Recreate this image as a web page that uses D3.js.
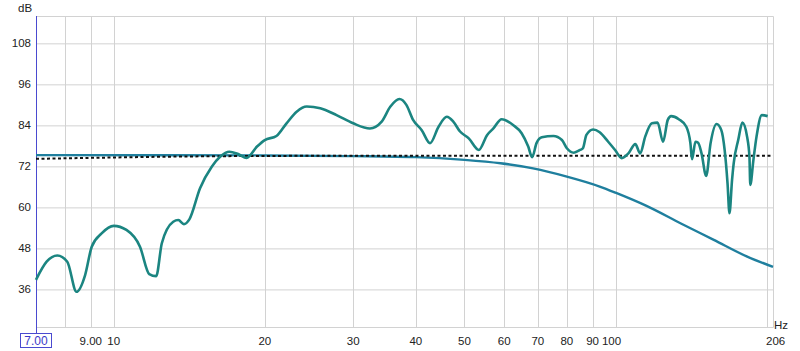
<!DOCTYPE html>
<html>
<head>
<meta charset="utf-8">
<script src="https://cdn.jsdelivr.net/npm/d3@7"></script>
<style>
  body { margin: 0; background: #fff; }
  svg text { font-family: "Liberation Sans", Arial, sans-serif; fill: #222; }
</style>
</head>
<body>
<div id="chart"></div>
<script>
// measured response (Hz, dB)
const measFreq = [7.0, 7.35, 7.72, 8.08, 8.43, 8.77, 9.04, 9.46, 10.0, 10.6, 11.28, 11.77, 12.15, 12.47,
    13.14, 13.45, 13.8, 14.15, 14.86, 15.68, 16.29, 17.0, 17.7, 18.4, 19.3, 20.0, 21.1, 22.1, 23.15,
    24.25, 25.8, 27.8, 30.0, 32.4, 34.2, 35.6, 37.1, 38.3, 39.5, 41.1, 42.7, 44.4, 46.1, 47.5, 49.0,
    51.0, 53.4, 55.5, 57.1, 59.3, 62.5, 65.0, 67.0, 68.2, 69.6, 71.3, 75.2, 78.2, 80.0, 82.6, 85.0,
    86.1, 87.5, 90.2, 93.0, 96.7, 99.8, 102.9, 106.1, 109.5, 112.0, 114.6, 118.2, 121.3, 124.4, 127.1,
    129.1, 133.7, 138.4, 141.0, 142.1, 144.3, 146.1, 148.4, 151.6, 154.7, 159.0, 162.5, 165.0, 167.2,
    168.7, 170.7, 172.0, 175.6, 179.0, 182.9, 184.9, 185.6, 188.3, 191.0, 195.7, 201.0];
const measDb = [38.8, 44.1, 45.9, 44.1, 35.3, 40.2, 48.5, 52.4, 54.6, 53.4, 48.5, 40.5, 39.9, 49.5,
    55.8, 56.3, 55.1, 56.5, 65.6, 71.9, 74.8, 76.3, 75.6, 74.5, 77.8, 79.7, 80.9, 84.6, 88.0,
    89.5, 89.0, 87.0, 84.6, 83.1, 85.1, 89.5, 91.7, 90.0, 85.6, 82.6, 78.8, 83.6, 86.5, 85.1, 82.2,
    80.2, 76.8, 81.2, 83.1, 85.8, 84.1, 81.7, 77.8, 74.7, 78.8, 80.5, 80.9, 79.7, 77.3, 76.0, 76.8,
    77.3, 81.2, 82.8, 82.0, 79.2, 76.8, 74.4, 75.8, 78.5, 75.8, 80.7, 84.6, 84.8, 79.2, 85.6,
    86.7, 85.8, 83.6, 78.8, 74.1, 79.2, 78.9, 75.8, 69.2, 78.8, 84.4, 82.6, 76.8, 67.1,
    58.3, 68.0, 72.9, 79.7, 84.8, 80.7, 74.8, 66.6, 73.9, 80.7, 87.0, 86.7];

// roll-off curve (Hz, dB)
const rollFreq = [7, 20, 30, 40, 50, 59, 68.5, 80, 93, 100, 115, 135, 157, 183, 206];
const rollDb = [75.3, 75.2, 75.0, 74.7, 73.9, 72.9, 71.4, 69.0, 66.1, 64.3, 60.5, 55.3, 50.5, 45.6, 42.6];

// target (dotted)
const targetFreq = [7, 10, 14, 20, 30, 206];
const targetDb = [74.2, 74.6, 74.9, 75.05, 75.1, 75.1];

const yTicks = [36, 48, 60, 72, 84, 96, 108];
const xGrid = [8, 9, 10, 20, 30, 40, 50, 60, 70, 80, 90, 100, 200];
const xLabels = [9, 10, 20, 30, 40, 50, 60, 70, 80, 90, 100];

const width = 800, height = 351;
const marginLeft = 36, marginRight = 27, marginTop = 16, marginBottom = 24;

const svg = d3.select("#chart").append("svg")
    .attr("width", width)
    .attr("height", height);

const x = d3.scaleLog()
    .domain([7, 206])
    .range([marginLeft, width - marginRight]);

const y = d3.scaleLinear()
    .domain([25, 116])
    .range([height - marginBottom, marginTop]);

const gridColor = "#d2d2d2";

// horizontal grid
svg.append("g")
    .selectAll("line")
    .data(yTicks)
    .join("line")
    .attr("x1", marginLeft)
    .attr("x2", width - marginRight)
    .attr("y1", d => y(d) + 0.5)
    .attr("y2", d => y(d) + 0.5)
    .attr("stroke", gridColor);

// vertical grid
svg.append("g")
    .selectAll("line")
    .data(xGrid)
    .join("line")
    .attr("x1", d => Math.round(x(d)) + 0.5)
    .attr("x2", d => Math.round(x(d)) + 0.5)
    .attr("y1", marginTop)
    .attr("y2", height - marginBottom)
    .attr("stroke", gridColor);

// frame (top, right, bottom)
svg.append("path")
    .attr("d", `M${marginLeft},${marginTop + 0.5}H${width - marginRight + 0.5}V${height - marginBottom + 0.5}H${marginLeft}`)
    .attr("fill", "none")
    .attr("stroke", gridColor);

// y labels
svg.append("g")
    .selectAll("text")
    .data(yTicks)
    .join("text")
    .attr("x", marginLeft - 5)
    .attr("y", d => y(d) + 4)
    .attr("text-anchor", "end")
    .style("font-size", "11.5px")
    .text(d => d);

svg.append("text")
    .attr("x", 18)
    .attr("y", 12)
    .style("font-size", "11.5px")
    .text("dB");

// x labels
svg.append("g")
    .selectAll("text")
    .data(xLabels)
    .join("text")
    .attr("x", d => d === 100 ? x(d) - 4 : x(d))
    .attr("y", 345)
    .attr("text-anchor", "middle")
    .style("font-size", "11.5px")
    .text(d => d === 9 ? "9.00" : d);

svg.append("text")
    .attr("x", width - marginRight + 1)
    .attr("y", 329)
    .style("font-size", "11.5px")
    .text("Hz");

svg.append("text")
    .attr("x", width - marginRight - 7)
    .attr("y", 345)
    .style("font-size", "11.5px")
    .text("206");

// left axis (blue) with start box
const axisBlue = "#4a4ad0";
svg.append("line")
    .attr("x1", marginLeft + 0.5)
    .attr("x2", marginLeft + 0.5)
    .attr("y1", marginTop)
    .attr("y2", 333)
    .attr("stroke", axisBlue);

svg.append("rect")
    .attr("x", 20.5)
    .attr("y", 333.5)
    .attr("width", 31)
    .attr("height", 14)
    .attr("fill", "#fff")
    .attr("stroke", axisBlue);

svg.append("text")
    .attr("x", 36)
    .attr("y", 345)
    .attr("text-anchor", "middle")
    .style("font-size", "12px")
    .style("fill", "#3a3ac8")
    .text("7.00");

const line = d3.line()
    .x(d => x(d[0]))
    .y(d => y(d[1]))
    .curve(d3.curveMonotoneX);

const plot = svg.append("g");

// roll-off
plot.append("path")
    .datum(d3.zip(rollFreq, rollDb))
    .attr("d", line)
    .attr("fill", "none")
    .attr("stroke", "#1f7f9e")
    .attr("stroke-width", 2.4);

// target dotted
plot.append("path")
    .datum(d3.zip(targetFreq, targetDb))
    .attr("d", line)
    .attr("fill", "none")
    .attr("stroke", "#111")
    .attr("stroke-width", 2)
    .attr("stroke-dasharray", "3,2.5");

// measured
plot.append("path")
    .datum(d3.zip(measFreq, measDb))
    .attr("d", line)
    .attr("fill", "none")
    .attr("stroke", "#1b8581")
    .attr("stroke-width", 2.6)
    .attr("stroke-linejoin", "round");
</script>
</body>
</html>
